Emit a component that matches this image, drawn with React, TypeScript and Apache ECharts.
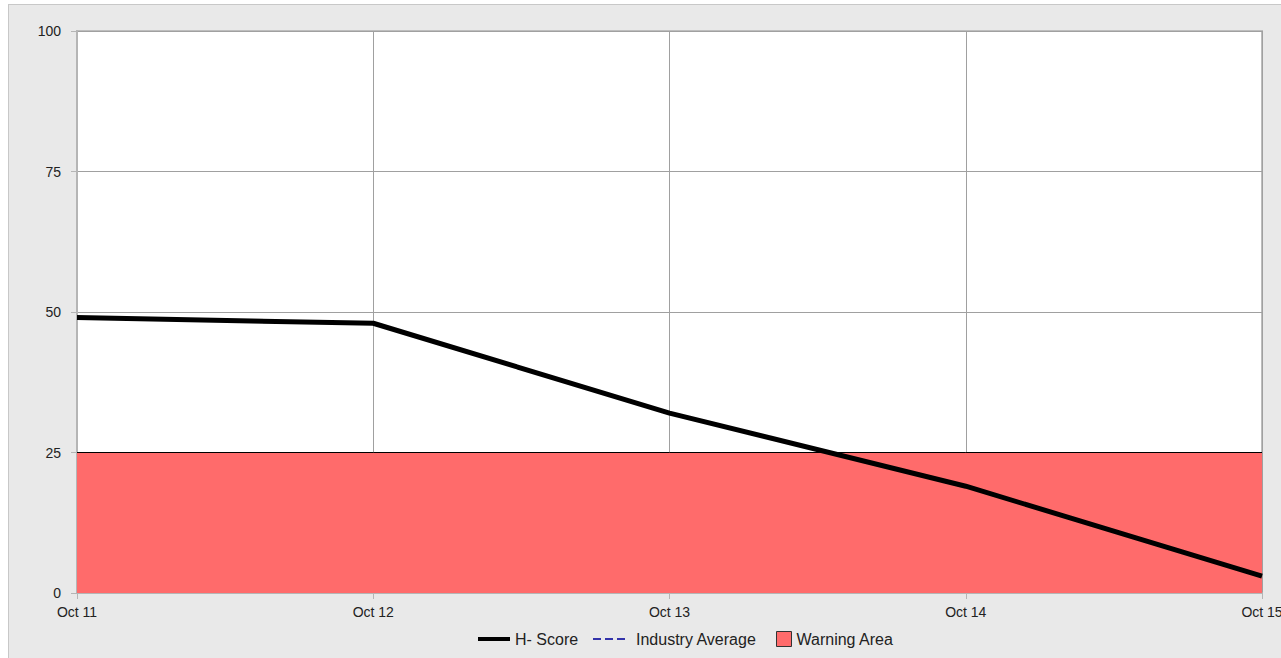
import React, { useEffect, useRef } from "react";
import * as echarts from "echarts";

const categories = ["Oct 11", "Oct 12", "Oct 13", "Oct 14", "Oct 15"];
const hScore = [49, 48, 32, 19, 3];
const industryAverage: number[] = [];
const warningArea = [25, 25, 25, 25, 25];
const yTicks = { min: 0, max: 100, interval: 25 };

const FONT = "'Liberation Sans', Arial, sans-serif";
const LEGEND_TOP = 633;

export default function App() {
  const ref = useRef<HTMLDivElement>(null);
  useEffect(() => {
    if (!ref.current) return;
    const chart = echarts.init(ref.current, undefined, { renderer: "svg" });
    const legendText = { fontFamily: FONT, fontSize: 16, color: "#222" };
    chart.setOption({
      animation: false,
      backgroundColor: "#e9e9e9",
      textStyle: { fontFamily: FONT, color: "#222" },
      grid: {
        left: 68,
        top: 26,
        right: 19,
        bottom: 65,
        outerBoundsMode: "none",
        containLabel: false,
        show: true,
        backgroundColor: "#ffffff",
        borderColor: "#bdbdbd",
        borderWidth: 2,
      },
      legend: [
        {
          left: 469,
          top: LEGEND_TOP - 7,
          padding: 0,
          itemWidth: 32,
          itemHeight: 15,
          icon: "path://M0,0H32V4H0Z",
          data: [{ name: "H- Score", itemStyle: { color: "#000" } }],
          textStyle: legendText,
        },
        {
          left: 584,
          top: LEGEND_TOP - 7,
          padding: 0,
          itemWidth: 38,
          itemHeight: 15,
          icon: "path://M0,0H8V2H0Z M12,0H20V2H12Z M24,0H32V2H24Z M38,0H38.01V2H38Z",
          data: [{ name: "Industry Average", itemStyle: { color: "#3333aa" } }],
          textStyle: legendText,
        },
        {
          left: 767,
          top: LEGEND_TOP - 7,
          padding: 0,
          itemWidth: 15,
          itemHeight: 15,
          icon: "rect",
          data: [
            {
              name: "Warning Area",
              itemStyle: { color: "#ff6b6b", borderColor: "#333", borderWidth: 1 },
            },
          ],
          textStyle: legendText,
        },
      ],
      xAxis: {
        type: "category",
        boundaryGap: false,
        data: categories,
        axisLine: { show: true, lineStyle: { color: "#b5b5b5", width: 2 } },
        axisTick: { show: true, length: 6, lineStyle: { color: "#b5b5b5" } },
        axisLabel: { margin: 12, fontSize: 14, color: "#222", fontFamily: FONT, showMaxLabel: true, hideOverlap: false },
        splitLine: { show: true, lineStyle: { color: "#a0a0a0", width: 1 } },
      },
      yAxis: {
        type: "value",
        min: yTicks.min,
        max: yTicks.max,
        interval: yTicks.interval,
        axisLine: { show: true, lineStyle: { color: "#b5b5b5", width: 2 } },
        axisTick: { show: true, length: 6, lineStyle: { color: "#b5b5b5" } },
        axisLabel: { margin: 16, fontSize: 14, color: "#222", fontFamily: FONT },
        splitLine: { show: true, lineStyle: { color: "#a0a0a0", width: 1 } },
      },
      series: [
        {
          name: "Warning Area",
          type: "line",
          data: warningArea,
          symbol: "none",
          color: "#ff6b6b",
          lineStyle: { color: "#000", width: 1 },
          areaStyle: { color: "#ff6b6b", opacity: 1 },
          z: 2,
        },
        {
          name: "Industry Average",
          type: "line",
          data: industryAverage,
          symbol: "none",
          color: "#3333aa",
          lineStyle: { color: "#3333aa", width: 2, type: "dashed" },
          z: 3,
        },
        {
          name: "H- Score",
          type: "line",
          data: hScore,
          symbol: "none",
          color: "#000",
          lineStyle: { color: "#000", width: 5 },
          z: 4,
        },
      ],
    });
    return () => chart.dispose();
  }, []);

  return (
    <div
      style={{
        position: "fixed",
        left: 8,
        top: 4,
        width: 1273,
        height: 654,
        boxSizing: "border-box",
        borderLeft: "1px solid #c8c8c8",
        borderTop: "1px solid #c8c8c8",
        background: "#e9e9e9",
      }}
    >
      <div ref={ref} style={{ width: 1272, height: 653 }} />
    </div>
  );
}
